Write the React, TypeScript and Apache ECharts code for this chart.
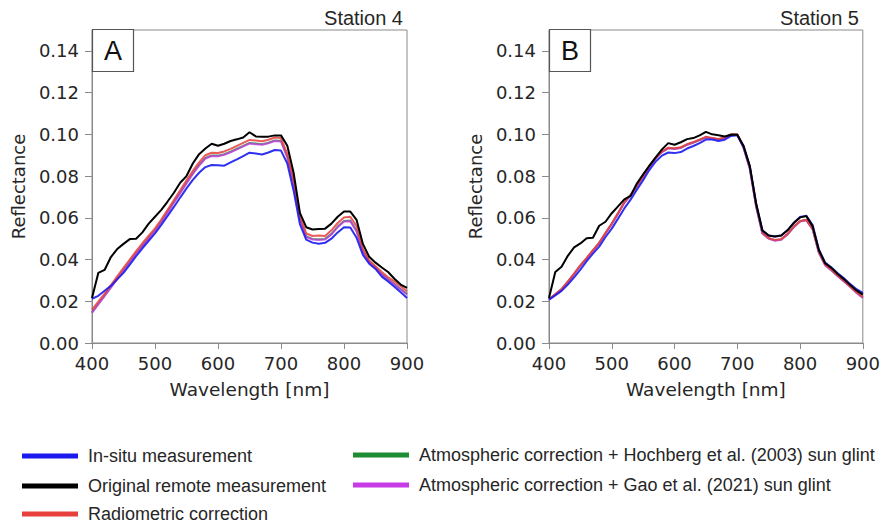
import React, { useEffect, useRef } from "react";
import * as echarts from "echarts";

const WL = [400, 410, 420, 430, 440, 450, 460, 470, 480, 490, 500, 510, 520, 530, 540, 550, 560, 570, 580, 590, 600, 610, 620, 630, 640, 650, 660, 670, 680, 690, 700, 710, 720, 730, 740, 750, 760, 770, 780, 790, 800, 810, 820, 830, 840, 850, 860, 870, 880, 890, 900];

const Y_TICKS = [0, 0.02, 0.04, 0.06, 0.08, 0.1, 0.12, 0.14];

const SERIES_NAMES = [
  "In-situ measurement",
  "Original remote measurement",
  "Radiometric correction",
  "Atmospheric correction + Hochberg et al. (2003) sun glint",
  "Atmospheric correction + Gao et al. (2021) sun glint",
];
const SERIES_COLORS = ["#1a1aee", "#000000", "#e8403c", "#1e8c32", "#c63be6"];
const SERIES_OPACITY = [0.9, 1, 0.85, 0.8, 0.8];
const SERIES_Z = [4, 5, 3, 1, 2];

// Station 4 (panel A)
const A_INSITU = [0.0212, 0.0226, 0.0250, 0.0274, 0.0305, 0.0336, 0.0376, 0.0416, 0.0454, 0.0490, 0.0525, 0.0566, 0.0609, 0.0652, 0.0697, 0.0741, 0.0782, 0.0816, 0.0843, 0.0853, 0.0852, 0.0850, 0.0866, 0.0880, 0.0896, 0.0912, 0.0908, 0.0903, 0.0913, 0.0925, 0.0922, 0.0860, 0.0730, 0.0570, 0.0495, 0.0481, 0.0476, 0.0480, 0.0500, 0.0530, 0.0555, 0.0554, 0.0504, 0.0422, 0.0380, 0.0355, 0.0318, 0.0295, 0.0270, 0.0243, 0.0216];
const A_ORIGINAL = [0.0216, 0.0336, 0.0350, 0.0412, 0.0450, 0.0475, 0.0498, 0.0500, 0.0530, 0.0572, 0.0605, 0.0638, 0.0678, 0.0720, 0.0768, 0.0800, 0.0860, 0.0905, 0.0932, 0.0955, 0.0945, 0.0955, 0.0968, 0.0976, 0.0985, 0.1010, 0.0990, 0.0989, 0.0989, 0.0995, 0.0995, 0.0945, 0.0816, 0.0624, 0.0555, 0.0544, 0.0546, 0.0548, 0.0572, 0.0605, 0.0630, 0.0630, 0.0590, 0.0475, 0.0413, 0.0385, 0.0362, 0.0340, 0.0308, 0.0280, 0.0264];
const A_RADIOMETRIC = [0.0160, 0.0198, 0.0237, 0.0277, 0.0319, 0.0360, 0.0400, 0.0440, 0.0478, 0.0514, 0.0549, 0.0592, 0.0638, 0.0685, 0.0732, 0.0780, 0.0825, 0.0866, 0.0900, 0.0912, 0.0911, 0.0918, 0.0930, 0.0945, 0.0959, 0.0973, 0.0970, 0.0967, 0.0974, 0.0985, 0.0982, 0.0905, 0.0785, 0.0610, 0.0525, 0.0513, 0.0515, 0.0513, 0.0540, 0.0575, 0.0602, 0.0605, 0.0560, 0.0450, 0.0395, 0.0368, 0.0340, 0.0315, 0.0295, 0.0272, 0.0248];
const A_HOCHBERG = [0.0147, 0.0188, 0.0228, 0.0268, 0.0309, 0.0350, 0.0391, 0.0431, 0.0469, 0.0505, 0.0541, 0.0583, 0.0629, 0.0675, 0.0721, 0.0768, 0.0813, 0.0853, 0.0887, 0.0899, 0.0898, 0.0905, 0.0917, 0.0931, 0.0945, 0.0959, 0.0956, 0.0953, 0.0960, 0.0971, 0.0969, 0.0893, 0.0768, 0.0595, 0.0511, 0.0499, 0.0497, 0.0499, 0.0523, 0.0558, 0.0585, 0.0587, 0.0538, 0.0441, 0.0391, 0.0363, 0.0331, 0.0306, 0.0283, 0.0259, 0.0235];
const A_GAO = [0.0144, 0.0185, 0.0225, 0.0265, 0.0306, 0.0347, 0.0388, 0.0428, 0.0466, 0.0502, 0.0538, 0.0580, 0.0626, 0.0672, 0.0718, 0.0765, 0.0810, 0.0850, 0.0884, 0.0896, 0.0895, 0.0902, 0.0914, 0.0928, 0.0942, 0.0956, 0.0953, 0.0950, 0.0957, 0.0968, 0.0966, 0.0890, 0.0765, 0.0592, 0.0508, 0.0496, 0.0494, 0.0496, 0.0520, 0.0555, 0.0582, 0.0584, 0.0535, 0.0438, 0.0388, 0.0360, 0.0328, 0.0303, 0.0280, 0.0256, 0.0232];

// Station 5 (panel B)
const B_INSITU = [0.0208, 0.0228, 0.0250, 0.0280, 0.0315, 0.0352, 0.0392, 0.0428, 0.0462, 0.0508, 0.0548, 0.0596, 0.0645, 0.0687, 0.0735, 0.0780, 0.0830, 0.0870, 0.0898, 0.0913, 0.0910, 0.0915, 0.0932, 0.0944, 0.0958, 0.0975, 0.0975, 0.0968, 0.0974, 0.0992, 0.0995, 0.0940, 0.0845, 0.0665, 0.0538, 0.0515, 0.0510, 0.0515, 0.0540, 0.0576, 0.0604, 0.0610, 0.0565, 0.0448, 0.0385, 0.0362, 0.0334, 0.0310, 0.0282, 0.0258, 0.0240];
const B_ORIGINAL = [0.0216, 0.0340, 0.0365, 0.0418, 0.0458, 0.0477, 0.0502, 0.0504, 0.0562, 0.0581, 0.0622, 0.0655, 0.0688, 0.0705, 0.0764, 0.0808, 0.0850, 0.0890, 0.0928, 0.0958, 0.0950, 0.0962, 0.0977, 0.0982, 0.0995, 0.1012, 0.1000, 0.0996, 0.0990, 0.0998, 0.0998, 0.0945, 0.0848, 0.0670, 0.0540, 0.0515, 0.0510, 0.0515, 0.0540, 0.0575, 0.0602, 0.0608, 0.0560, 0.0445, 0.0382, 0.0360, 0.0331, 0.0306, 0.0278, 0.0252, 0.0232];
const B_RADIOMETRIC = [0.0210, 0.0234, 0.0259, 0.0295, 0.0333, 0.0373, 0.0408, 0.0445, 0.0481, 0.0528, 0.0573, 0.0623, 0.0675, 0.0710, 0.0755, 0.0798, 0.0848, 0.0888, 0.0918, 0.0936, 0.0933, 0.0938, 0.0953, 0.0963, 0.0975, 0.0988, 0.0983, 0.0978, 0.0985, 0.1000, 0.1000, 0.0938, 0.0838, 0.0658, 0.0528, 0.0503, 0.0494, 0.0498, 0.0523, 0.0558, 0.0585, 0.0591, 0.0548, 0.0436, 0.0376, 0.0351, 0.0323, 0.0298, 0.0271, 0.0244, 0.0220];
const B_HOCHBERG = [0.0209, 0.0233, 0.0257, 0.0293, 0.0331, 0.0371, 0.0406, 0.0443, 0.0479, 0.0526, 0.0571, 0.0621, 0.0673, 0.0708, 0.0753, 0.0796, 0.0846, 0.0886, 0.0916, 0.0934, 0.0931, 0.0936, 0.0951, 0.0961, 0.0973, 0.0986, 0.0981, 0.0976, 0.0983, 0.0999, 0.0999, 0.0936, 0.0836, 0.0656, 0.0526, 0.0501, 0.0492, 0.0496, 0.0521, 0.0556, 0.0583, 0.0589, 0.0546, 0.0434, 0.0374, 0.0349, 0.0321, 0.0296, 0.0269, 0.0242, 0.0218];
const B_GAO = [0.0208, 0.0232, 0.0256, 0.0292, 0.0330, 0.0370, 0.0405, 0.0442, 0.0478, 0.0525, 0.0570, 0.0620, 0.0672, 0.0707, 0.0752, 0.0795, 0.0845, 0.0885, 0.0915, 0.0933, 0.0930, 0.0935, 0.0950, 0.0960, 0.0972, 0.0985, 0.0980, 0.0975, 0.0982, 0.0998, 0.0998, 0.0935, 0.0835, 0.0655, 0.0525, 0.0500, 0.0490, 0.0495, 0.0520, 0.0555, 0.0582, 0.0588, 0.0545, 0.0432, 0.0372, 0.0348, 0.0320, 0.0295, 0.0268, 0.0240, 0.0216];

const PANEL_A = [A_INSITU, A_ORIGINAL, A_RADIOMETRIC, A_HOCHBERG, A_GAO];
const PANEL_B = [B_INSITU, B_ORIGINAL, B_RADIOMETRIC, B_HOCHBERG, B_GAO];
const PANEL_LETTERS = ["A", "B"];
const PANEL_TITLES = ["Station 4", "Station 5"];

const AXIS_COLOR = "#8a8a8a";
const TEXT_COLOR = "#262626";
const AXIS_FONT = "DejaVu Sans";
const LEGEND_FONT = "Liberation Sans";

export default function App() {
  const ref = useRef<HTMLDivElement>(null);

  useEffect(() => {
    if (!ref.current) return;
    const chart = echarts.init(ref.current, undefined, { renderer: "svg" });

    const grids = [
      { left: 92, right: 476, top: 30, bottom: 184 },
      { left: 549, right: 20, top: 30, bottom: 184 },
    ];

    const xAxes = grids.map((_, i) => ({
      type: "value",
      gridIndex: i,
      min: 400,
      max: 900,
      interval: 100,
      name: "Wavelength [nm]",
      nameLocation: "middle",
      nameGap: 37,
      nameTextStyle: { fontFamily: AXIS_FONT, fontSize: 18.5, color: TEXT_COLOR },
      axisLine: { show: true, lineStyle: { color: AXIS_COLOR, width: 1 } },
      axisTick: { show: true, length: 6, lineStyle: { color: AXIS_COLOR } },
      axisLabel: { fontFamily: AXIS_FONT, fontSize: 18, color: TEXT_COLOR, margin: 11 },
      splitLine: { show: false },
    }));

    const yAxes = grids.map((_, i) => ({
      type: "value",
      gridIndex: i,
      min: 0,
      max: 0.15,
      name: "Reflectance",
      nameLocation: "middle",
      nameGap: 65,
      nameTextStyle: { fontFamily: AXIS_FONT, fontSize: 18, color: TEXT_COLOR },
      axisLine: { show: true, lineStyle: { color: AXIS_COLOR, width: 1 } },
      axisTick: { show: true, length: 7, lineStyle: { color: AXIS_COLOR }, customValues: Y_TICKS },
      axisLabel: {
        fontFamily: AXIS_FONT,
        fontSize: 18,
        color: TEXT_COLOR,
        margin: 13,
        customValues: Y_TICKS,
        formatter: (v: number) => v.toFixed(2),
      },
      splitLine: { show: false },
    }));

    const series: any[] = [];
    [PANEL_A, PANEL_B].forEach((panel, p) => {
      panel.forEach((vals, s) => {
        series.push({
          type: "line",
          name: SERIES_NAMES[s],
          xAxisIndex: p,
          yAxisIndex: p,
          showSymbol: false,
          symbol: "none",
          data: WL.map((w, k) => [w, vals[k]]),
          lineStyle: { color: SERIES_COLORS[s], width: 2, opacity: SERIES_OPACITY[s] },
          itemStyle: { color: SERIES_COLORS[s] },
          z: 2 + SERIES_Z[s],
        });
      });
    });

    const graphics: any[] = [];
    grids.forEach((g, i) => {
      const left = g.left;
      const rightEdge = 883 - g.right;
      graphics.push({
        type: "rect",
        shape: { x: left + 0.5, y: 29.5, width: 41, height: 42 },
        style: { fill: "#ffffff", stroke: "#555555", lineWidth: 1.2 },
        z: 100,
      });
      graphics.push({
        type: "text",
        x: left + 21,
        y: 51,
        style: {
          text: PANEL_LETTERS[i],
          fontSize: 27,
          fontFamily: LEGEND_FONT,
          fill: "#111111",
          align: "center",
          verticalAlign: "middle",
        },
        z: 101,
      });
      graphics.push({
        type: "text",
        x: rightEdge - 4,
        y: 18,
        style: {
          text: PANEL_TITLES[i],
          fontSize: 20,
          fontFamily: LEGEND_FONT,
          fill: TEXT_COLOR,
          align: "right",
          verticalAlign: "middle",
        },
        z: 101,
      });
    });

    const legendPos = [
      { x: 22, y: 456 },
      { x: 22, y: 486 },
      { x: 22, y: 514 },
      { x: 353, y: 455 },
      { x: 353, y: 485 },
    ];
    SERIES_NAMES.forEach((name, i) => {
      const pos = legendPos[i];
      graphics.push({
        type: "rect",
        shape: { x: pos.x, y: pos.y - 2.5, width: 56, height: 5 },
        style: { fill: SERIES_COLORS[i] },
        z: 100,
      });
      graphics.push({
        type: "text",
        x: pos.x + 66,
        y: pos.y,
        style: {
          text: name,
          fontSize: 18,
          fontFamily: LEGEND_FONT,
          fill: TEXT_COLOR,
          align: "left",
          verticalAlign: "middle",
        },
        z: 100,
      });
    });

    chart.setOption({
      animation: false,
      backgroundColor: "#ffffff",
      grid: grids.map((g) => ({
        ...g,
        show: true,
        borderColor: AXIS_COLOR,
        borderWidth: 1,
        backgroundColor: "transparent",
      })),
      xAxis: xAxes,
      yAxis: yAxes,
      series,
      graphic: graphics,
    });

    return () => chart.dispose();
  }, []);

  return <div ref={ref} style={{ width: 883, height: 527, position: "absolute", left: 0, top: 0 }} />;
}
